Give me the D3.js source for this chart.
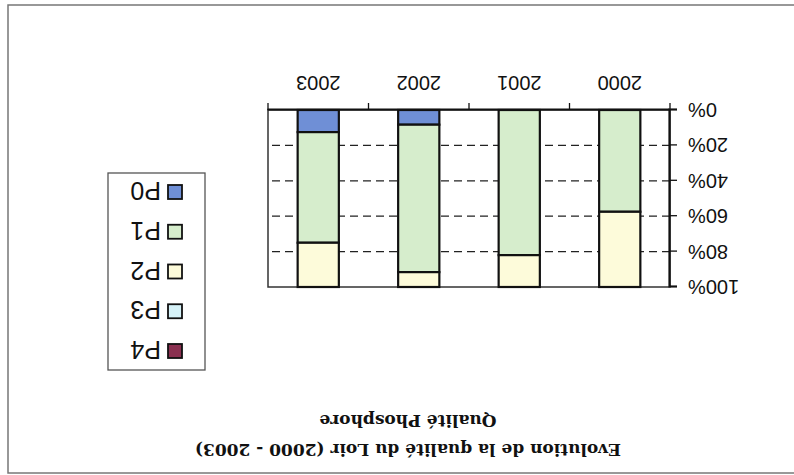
<!DOCTYPE html>
<html><head><meta charset="utf-8">
<script src="https://cdn.jsdelivr.net/npm/d3@7"></script>
<style>html,body{margin:0;padding:0;background:#fff;}svg{display:block;}</style>
</head><body>
<script>
const years = ["2000", "2001", "2002", "2003"];
const seriesNames = ["P0", "P1", "P2", "P3", "P4"];
const P0 = [0, 0, 8.3, 12.5];
const P1 = [57.5, 82, 83.3, 62.5];
const P2 = [42.5, 18, 8.4, 25];
const P3 = [0, 0, 0, 0];
const P4 = [0, 0, 0, 0];
const yTicks = [0, 20, 40, 60, 80, 100];
const colors = {P0: "#6f8fd6", P1: "#d6edcc", P2: "#fdfbda", P3: "#d6f2f8", P4: "#8a3050"};
const titleLines = ["Evolution de la qualité du Loir (2000 - 2003)", "Qualité Phosphore"];

const W = 794, H = 475;
const svg = d3.select("body").append("svg").attr("width", W).attr("height", H);
svg.append("rect").attr("width", W).attr("height", H).attr("fill", "#fff");
// whole chart is rotated 180 degrees as in the reference
const root = svg.append("g").attr("transform", `rotate(180, ${W/2}, ${H/2})`);

root.append("rect").attr("x", -5).attr("y", 2).attr("width", 791).attr("height", 468)
  .attr("fill", "none").attr("stroke", "#777").attr("stroke-width", 1.5);

const table = years.map((y, i) => ({year: y, P0: P0[i], P1: P1[i], P2: P2[i], P3: P3[i], P4: P4[i]}));
const stacked = d3.stack().keys(seriesNames)(table);

const x = d3.scaleBand().domain(years).range([124, 526]).padding(0);
const y = d3.scaleLinear().domain([0, 100]).range([365, 188]);

// gridlines
root.append("g").selectAll("line").data(yTicks.filter(t => t > 0 && t < 100)).join("line")
  .attr("x1", 124).attr("x2", 526).attr("y1", d => y(d)).attr("y2", d => y(d))
  .attr("stroke", "#222").attr("stroke-width", 1.3).attr("stroke-dasharray", "8,5");

// plot border
root.append("rect").attr("x", 124).attr("y", y(100)).attr("width", 402).attr("height", y(0) - y(100))
  .attr("fill", "none").attr("stroke", "#333").attr("stroke-width", 1.5);

// bars
const bw = x.bandwidth() * 0.41;
root.append("g").selectAll("g").data(stacked).join("g").attr("fill", d => colors[d.key])
  .selectAll("rect").data(d => d.filter(s => s[1] - s[0] > 0)).join("rect")
  .attr("x", d => x(d.data.year) + (x.bandwidth() - bw) / 2)
  .attr("width", bw)
  .attr("y", d => y(d[1]))
  .attr("height", d => y(d[0]) - y(d[1]))
  .attr("stroke", "#111").attr("stroke-width", 2.2);

// y axis
const yAxis = d3.axisLeft(y).tickValues(yTicks).tickFormat(d => d + "%").tickSize(7).tickPadding(11);
const ya = root.append("g").attr("transform", "translate(124,0)").call(yAxis);
ya.select(".domain").attr("stroke", "#111").attr("stroke-width", 2.2);
ya.selectAll(".tick line").attr("stroke", "#111").attr("stroke-width", 1.3);
ya.selectAll("text").attr("font-family", "Liberation Sans, Arial, sans-serif").attr("font-size", 20).attr("fill", "#111");

// x axis
const xa = root.append("g").attr("transform", `translate(0,${y(0)})`)
  .call(d3.axisBottom(x).tickSize(0).tickPadding(20));
xa.select(".domain").attr("stroke", "#111").attr("stroke-width", 2.2);
xa.selectAll("text").attr("font-family", "Liberation Sans, Arial, sans-serif").attr("font-size", 20).attr("fill", "#111");
const bounds = years.map(d => x(d)).concat([x.range()[1]]);
xa.append("g").selectAll("line").data(bounds).join("line")
  .attr("x1", d => d).attr("x2", d => d).attr("y1", 0).attr("y2", 7)
  .attr("stroke", "#111").attr("stroke-width", 1.3);

// title
root.append("g").selectAll("text").data(titleLines).join("text")
  .attr("x", 386).attr("y", (d, i) => 25 + i * 29)
  .attr("text-anchor", "middle").attr("dominant-baseline", "central")
  .attr("font-family", "DejaVu Serif, serif").attr("font-weight", "bold")
  .attr("font-size", 17).attr("fill", "#111").text(d => d);

// legend
const leg = root.append("g");
leg.append("rect").attr("x", 589).attr("y", 105).attr("width", 97).attr("height", 197)
  .attr("fill", "#fff").attr("stroke", "#555").attr("stroke-width", 1.3);
const legOrder = seriesNames.slice().reverse();
const ly = d3.scalePoint().domain(legOrder).range([124, 283]);
const items = leg.selectAll("g.item").data(legOrder).join("g").attr("class", "item")
  .attr("transform", d => `translate(0,${ly(d)})`);
items.append("rect").attr("x", 612).attr("y", -7).attr("width", 14).attr("height", 14)
  .attr("fill", d => colors[d]).attr("stroke", "#111").attr("stroke-width", 1.8);
items.append("text").attr("x", 633).attr("y", 1).attr("dominant-baseline", "central")
  .attr("font-family", "Liberation Sans, Arial, sans-serif").attr("font-size", 25).attr("fill", "#111")
  .text(d => d);
</script>
</body></html>
